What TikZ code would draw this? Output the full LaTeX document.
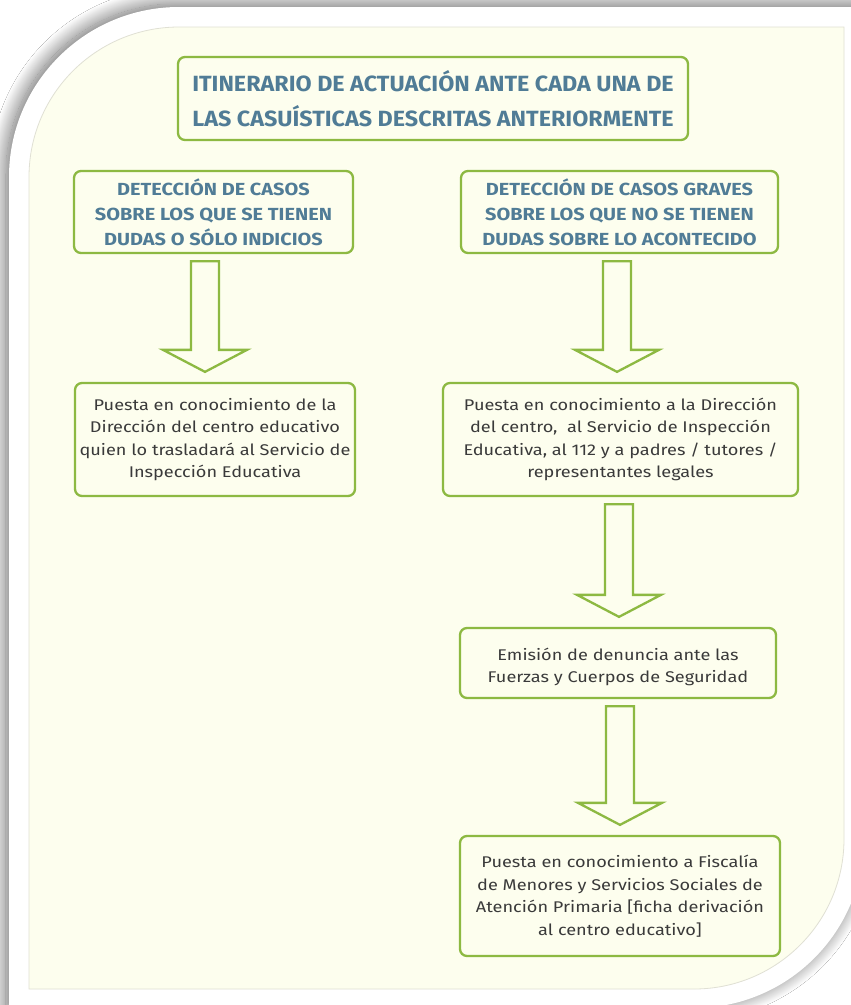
\documentclass[tikz,border=0pt]{standalone}
\usepackage{fontspec}
\setmainfont{Fira Sans}
\newfontfamily\headfont[FakeStretch=1.14]{Fira Sans}
\newfontfamily\titlefont[FakeStretch=1.06]{Fira Sans}
\newfontfamily\bodyfont[FakeStretch=1.17]{Fira Sans}
\usetikzlibrary{shadows.blur,calc}
\definecolor{panel}{RGB}{253,254,238}
\definecolor{boxgreen}{RGB}{141,185,66}
\definecolor{headblue}{RGB}{80,124,150}
\definecolor{bodygray}{RGB}{58,58,58}
\definecolor{paneledge}{RGB}{224,224,212}

% block arrow pointing down from node #1 to node #2, centred at x = #3
\newcommand\flowarrow[3]{%
  \draw[flow] let \p1=(#1.south), \p2=(#2.north) in
    (#3pt-14pt,\y1-7pt) -- (#3pt+14pt,\y1-7pt) -- (#3pt+14pt,\y2+32pt)
    -- (#3pt+42pt,\y2+32pt) -- (#3pt,\y2+10pt) -- (#3pt-42pt,\y2+32pt)
    -- (#3pt-14pt,\y2+32pt) -- cycle;}

\begin{document}
\begin{tikzpicture}[x=1pt,y=-1pt,
  box/.style={draw=boxgreen, line width=2.3pt, rounded corners=7pt,
    fill=panel, inner sep=0pt, align=center},
  titletext/.style={text=headblue, font=\titlefont\bfseries\fontsize{22}{35}\selectfont},
  headtext/.style={text=headblue, font=\headfont\bfseries\fontsize{17.5}{25}\selectfont},
  bodytext/.style={text=bodygray, font=\bodyfont\fontsize{15.5}{22.5}\selectfont},
  flow/.style={draw=boxgreen, line width=2.3pt, fill=panel, line join=miter}]

\clip (0,0) rectangle (851,1005);
\fill[white] (0,0) rectangle (851,1005);

% white frame with soft shadow
\path[fill=white, blur shadow={shadow xshift=-3pt, shadow yshift=3pt,
    shadow blur radius=16pt, shadow blur steps=40, shadow opacity=60}]
  (9,1060) -- (9,177) arc[start angle=180, end angle=270, radius=170]
  -- (864,7) -- (864,838)
  arc[start angle=0, end angle=90, radius=170] -- (9,1008) -- cycle;

% cream panel
\draw[paneledge, fill=panel, line width=0.8pt]
  (29,989) -- (29,177) arc[start angle=180, end angle=270, radius=150]
  -- (844,27) -- (844,839) arc[start angle=0, end angle=90, radius=150] -- cycle;

% boxes
\node[box, titletext, minimum width=510pt, minimum height=83pt] (title) at (433,98.5)
  {ITINERARIO DE ACTUACIÓN ANTE CADA UNA DE\\LAS CASUÍSTICAS DESCRITAS ANTERIORMENTE};

\node[box, headtext, minimum width=279pt, minimum height=82pt] (doubt) at (213.5,212)
  {DETECCIÓN DE CASOS\\SOBRE LOS QUE SE TIENEN\\DUDAS O SÓLO INDICIOS};
\node[box, headtext, minimum width=317pt, minimum height=82pt] (grave) at (619.5,212)
  {DETECCIÓN DE CASOS GRAVES\\SOBRE LOS QUE NO SE TIENEN\\DUDAS SOBRE LO ACONTECIDO};

\node[box, bodytext, minimum width=280pt, minimum height=113pt] (direccion) at (215,439.5)
  {Puesta en conocimiento de la\\Dirección del centro educativo\\quien lo trasladará al Servicio de\\Inspección Educativa};
\node[box, bodytext, minimum width=355pt, minimum height=113pt] (aviso) at (620.5,439.5)
  {Puesta en conocimiento a la Dirección\\del centro,\ \ al Servicio de Inspección\\Educativa, al 112 y a padres / tutores /\\representantes legales};

\node[box, minimum width=316pt, minimum height=70pt] (denuncia) at (618,663) {};
\node[bodytext, align=center, inner sep=0pt] (denunciatext) at ($(denuncia.center)+(0,4)$)
  {Emisión de denuncia ante las\\Fuerzas y Cuerpos de Seguridad};

\node[box, bodytext, minimum width=320pt, minimum height=120pt] (fiscalia) at (620,896)
  {Puesta en conocimiento a Fiscalía\\de Menores y Servicios Sociales de\\Atención Primaria [ficha derivación\\al centro educativo]};

% arrows
\flowarrow{doubt}{direccion}{205}
\flowarrow{grave}{aviso}{617}
\flowarrow{aviso}{denuncia}{619}
\flowarrow{denuncia}{fiscalia}{620}
\end{tikzpicture}
\end{document}
